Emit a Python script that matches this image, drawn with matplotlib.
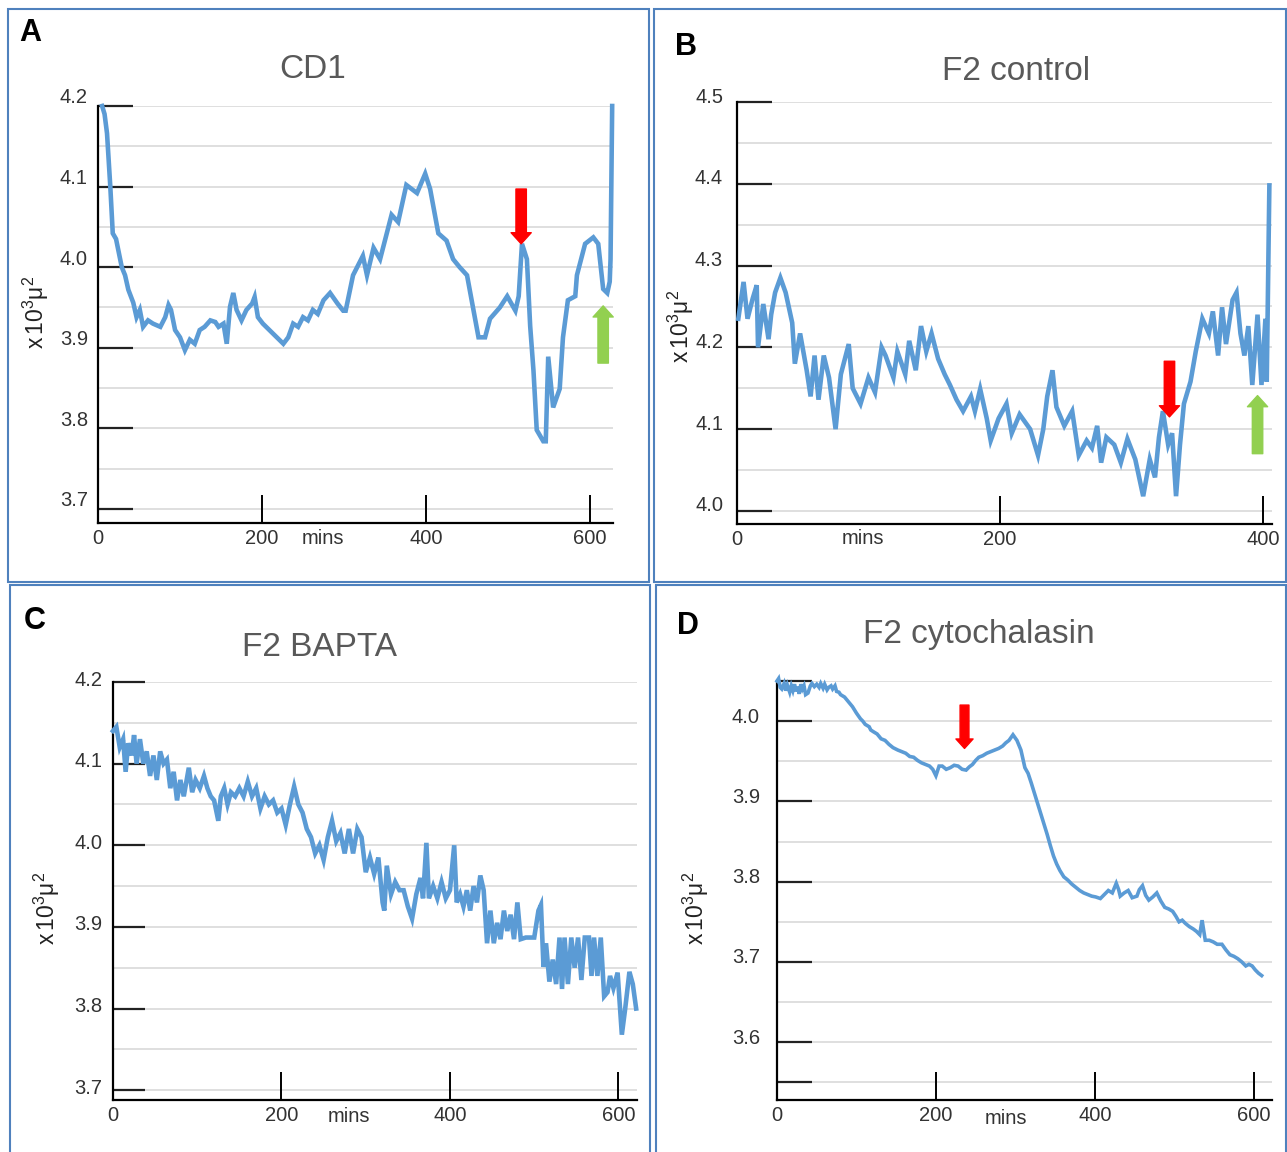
import matplotlib
matplotlib.use("Agg")
import matplotlib.pyplot as plt
from matplotlib.patches import FancyArrowPatch, Rectangle
from matplotlib.transforms import offset_copy
import numpy as np

plt.rcParams['font.family'] = ['Liberation Sans', 'DejaVu Sans']
plt.rcParams['mathtext.fontset'] = 'custom'
plt.rcParams['mathtext.rm'] = 'Liberation Sans'
plt.rcParams['mathtext.it'] = 'Liberation Sans'

# ---------------- data ----------------
titles = ["CD1", "F2 control", "F2 BAPTA", "F2 cytochalasin"]
letters = ["A", "B", "C", "D"]

a_t = [5, 8, 11, 15, 18, 22, 29, 33, 37, 43, 47, 51, 55, 61, 67, 76, 82, 86, 89, 94, 100, 106, 112, 118,
       124, 130, 137, 143, 147, 153, 157, 161, 165, 169, 175, 181, 188, 191, 195, 201, 209, 218, 226, 232,
       238, 244, 250, 256, 262, 268, 275, 283, 292, 299, 302, 311, 323, 328, 336, 344, 358, 366, 376, 389,
       399, 405, 415, 425, 433, 441, 450, 458, 464, 472, 478, 490, 499, 509, 513, 517, 523, 527, 531, 535,
       543, 546, 549, 555, 563, 567, 573, 582, 584, 594, 604, 610, 616, 621, 624, 625, 627]
a_v = [4.200, 4.190, 4.166, 4.100, 4.042, 4.035, 4.000, 3.990, 3.972, 3.956, 3.938, 3.947, 3.926, 3.934,
       3.930, 3.926, 3.938, 3.953, 3.947, 3.922, 3.913, 3.897, 3.910, 3.905, 3.922, 3.926, 3.934, 3.932,
       3.926, 3.930, 3.905, 3.951, 3.968, 3.947, 3.934, 3.947, 3.955, 3.963, 3.938, 3.930, 3.922, 3.913,
       3.905, 3.913, 3.930, 3.926, 3.938, 3.934, 3.947, 3.942, 3.959, 3.968, 3.955, 3.946, 3.946, 3.990,
       4.014, 3.990, 4.024, 4.010, 4.065, 4.056, 4.102, 4.092, 4.116, 4.097, 4.042, 4.033, 4.010, 4.000,
       3.990, 3.946, 3.913, 3.913, 3.936, 3.950, 3.964, 3.946, 3.964, 4.029, 4.010, 3.927, 3.872, 3.798,
       3.784, 3.784, 3.889, 3.826, 3.849, 3.913, 3.959, 3.964, 3.990, 4.029, 4.037, 4.029, 3.973, 3.968,
       3.982, 4.010, 4.200]

b_t = [1, 5, 8, 12, 15, 16, 20, 24, 26, 29, 33, 37, 42, 44, 48, 53, 56, 59, 62, 66, 70, 75, 79, 85, 88,
       94, 100, 105, 110, 113, 119, 122, 128, 131, 136, 140, 144, 148, 153, 158, 162, 167, 172, 178, 181,
       185, 190, 193, 199, 205, 209, 215, 223, 229, 233, 236, 240, 243, 249, 255, 260, 266, 270, 274, 277,
       281, 287, 292, 297, 303, 309, 314, 318, 321, 324, 328, 331, 334, 337, 340, 345, 349, 354, 359, 362,
       366, 369, 372, 377, 380, 383, 386, 389, 392, 396, 399, 402, 403, 405]
b_v = [4.235, 4.280, 4.235, 4.260, 4.276, 4.200, 4.253, 4.210, 4.240, 4.267, 4.285, 4.267, 4.230, 4.180,
       4.217, 4.172, 4.140, 4.190, 4.136, 4.190, 4.163, 4.100, 4.167, 4.204, 4.150, 4.131, 4.163, 4.145,
       4.200, 4.190, 4.163, 4.195, 4.167, 4.208, 4.172, 4.226, 4.195, 4.217, 4.186, 4.167, 4.154, 4.136,
       4.122, 4.140, 4.122, 4.149, 4.113, 4.086, 4.113, 4.131, 4.095, 4.118, 4.100, 4.068, 4.100, 4.140,
       4.172, 4.127, 4.104, 4.122, 4.068, 4.086, 4.077, 4.104, 4.059, 4.090, 4.081, 4.059, 4.088, 4.063,
       4.018, 4.063, 4.041, 4.090, 4.122, 4.081, 4.095, 4.018, 4.081, 4.131, 4.158, 4.195, 4.235, 4.217,
       4.244, 4.190, 4.249, 4.204, 4.258, 4.267, 4.217, 4.190, 4.226, 4.154, 4.240, 4.154, 4.235, 4.158,
       4.398]

c_t = [0, 4, 8, 12, 15, 18, 22, 25, 28, 32, 36, 40, 44, 48, 52, 56, 60, 64, 68, 72, 76, 80, 84, 90, 94,
       98, 103, 108, 112, 116, 120, 125, 128, 132, 136, 140, 145, 150, 155, 160, 165, 170, 175, 180, 185,
       190, 195, 200, 205, 210, 215, 220, 225, 230, 235, 240, 245, 250, 255, 260, 265, 270, 275, 280, 285,
       290, 295, 300, 305, 310, 315, 320, 322, 325, 330, 335, 340, 345, 350, 355, 360, 365, 368, 372, 375,
       380, 385, 390, 395, 400, 405, 408, 412, 416, 420, 424, 428, 432, 436, 440, 444, 448, 452, 456, 460,
       464, 468, 472, 476, 480, 484, 490, 500, 505, 508, 511, 514, 518, 522, 526, 530, 533, 536, 540, 544,
       548, 552, 556, 560, 565, 568, 571, 575, 579, 583, 587, 590, 594, 599, 604, 608, 613, 617, 621]
c_v = [4.140, 4.145, 4.120, 4.130, 4.090, 4.125, 4.110, 4.135, 4.100, 4.130, 4.100, 4.115, 4.085, 4.110,
       4.080, 4.115, 4.100, 4.105, 4.070, 4.090, 4.055, 4.080, 4.060, 4.095, 4.065, 4.080, 4.070, 4.085,
       4.070, 4.060, 4.055, 4.030, 4.060, 4.070, 4.050, 4.065, 4.060, 4.070, 4.060, 4.078, 4.060, 4.070,
       4.045, 4.060, 4.050, 4.055, 4.040, 4.045, 4.025, 4.050, 4.072, 4.050, 4.040, 4.020, 4.010, 3.990,
       4.000, 3.982, 4.010, 4.030, 4.005, 4.015, 3.990, 4.020, 3.990, 4.020, 4.010, 3.967, 3.985, 3.965,
       3.985, 3.930, 3.920, 3.975, 3.940, 3.955, 3.945, 3.945, 3.925, 3.910, 3.940, 3.960, 3.935, 4.003,
       3.935, 3.950, 3.935, 3.955, 3.935, 3.945, 4.000, 3.930, 3.940, 3.925, 3.945, 3.920, 3.950, 3.930,
       3.963, 3.945, 3.880, 3.920, 3.880, 3.905, 3.885, 3.920, 3.895, 3.915, 3.885, 3.930, 3.885, 3.887,
       3.887, 3.920, 3.927, 3.851, 3.880, 3.833, 3.860, 3.830, 3.887, 3.824, 3.887, 3.830, 3.887, 3.850,
       3.887, 3.835, 3.887, 3.887, 3.840, 3.887, 3.840, 3.887, 3.815, 3.820, 3.840, 3.825, 3.844, 3.768,
       3.800, 3.845, 3.830, 3.800]

d_t = [0, 2, 4, 6, 9, 11, 13, 16, 18, 20, 22, 24, 26, 28, 30, 32, 34, 36, 39, 42, 44, 47, 50, 53, 55, 58,
       60, 63, 65, 68, 70, 73, 75, 78, 80, 85, 90, 95, 100, 105, 108, 111, 116, 118, 121, 126, 131, 136,
       141, 146, 152, 157, 162, 167, 172, 177, 182, 187, 192, 196, 200, 204, 208, 213, 218, 223, 228, 233,
       238, 242, 246, 250, 254, 259, 264, 269, 274, 279, 284, 288, 292, 297, 302, 307, 312, 316, 320, 325,
       330, 335, 340, 344, 348, 352, 356, 361, 366, 371, 376, 381, 386, 391, 396, 401, 407, 412, 417, 422,
       427, 430, 432, 437, 442, 447, 453, 456, 460, 464, 468, 473, 478, 483, 488, 493, 498, 502, 506, 510,
       514, 519, 524, 528, 532, 535, 539, 544, 549, 554, 560, 565, 570, 575, 580, 585, 590, 594, 598, 602,
       606, 610]
d_v = [4.050, 4.053, 4.042, 4.040, 4.047, 4.038, 4.045, 4.036, 4.044, 4.038, 4.046, 4.037, 4.043, 4.034,
       4.046, 4.040, 4.044, 4.033, 4.035, 4.044, 4.047, 4.043, 4.046, 4.042, 4.047, 4.041, 4.046, 4.039,
       4.042, 4.044, 4.040, 4.044, 4.037, 4.036, 4.033, 4.030, 4.024, 4.018, 4.010, 4.003, 4.000, 3.996,
       3.993, 3.989, 3.987, 3.984, 3.978, 3.976, 3.971, 3.967, 3.964, 3.962, 3.960, 3.956, 3.955, 3.951,
       3.948, 3.946, 3.944, 3.940, 3.932, 3.944, 3.944, 3.940, 3.942, 3.945, 3.944, 3.940, 3.939, 3.943,
       3.946, 3.951, 3.955, 3.957, 3.960, 3.962, 3.964, 3.966, 3.969, 3.973, 3.976, 3.983, 3.976, 3.964,
       3.942, 3.935, 3.923, 3.907, 3.891, 3.875, 3.859, 3.845, 3.832, 3.822, 3.814, 3.806, 3.802, 3.797,
       3.793, 3.789, 3.786, 3.784, 3.782, 3.781, 3.779, 3.784, 3.789, 3.786, 3.798, 3.790, 3.782, 3.786,
       3.789, 3.780, 3.782, 3.790, 3.795, 3.783, 3.777, 3.781, 3.786, 3.776, 3.768, 3.766, 3.763, 3.757,
       3.750, 3.752, 3.748, 3.744, 3.741, 3.738, 3.734, 3.752, 3.727, 3.727, 3.725, 3.722, 3.722, 3.715,
       3.709, 3.707, 3.704, 3.700, 3.695, 3.697, 3.695, 3.690, 3.686, 3.683]

series_t = [a_t, b_t, c_t, d_t]
series_v = [a_v, b_v, c_v, d_v]

xlims = [(0, 628), (0, 407), (0, 622), (0, 623)]
ylims = [(3.6826, 4.2), (3.984, 4.5), (3.688, 4.2), (3.528, 4.05)]
xticks = [[0, 200, 400, 600], [0, 200, 400], [0, 200, 400, 600], [0, 200, 400, 600]]
yticks = [[3.7, 3.8, 3.9, 4.0, 4.1, 4.2], [4.0, 4.1, 4.2, 4.3, 4.4, 4.5],
          [3.7, 3.8, 3.9, 4.0, 4.1, 4.2], [3.55, 3.6, 3.7, 3.8, 3.9, 4.0, 4.05]]
yticklabels = [["3.7", "3.8", "3.9", "4.0", "4.1", "4.2"], ["4.0", "4.1", "4.2", "4.3", "4.4", "4.5"],
               ["3.7", "3.8", "3.9", "4.0", "4.1", "4.2"], ["", "3.6", "3.7", "3.8", "3.9", "4.0", ""]]

# arrows: (panel, x, y_tail, y_tip, color)
arrows = [(0, 516, 4.097, 4.029, "#ff0000"), (0, 616, 3.881, 3.952, "#92d050"),
          (1, 329, 4.183, 4.115, "#ff0000"), (1, 396, 4.070, 4.141, "#92d050"),
          (3, 236, 4.020, 3.966, "#ff0000")]

# ---------------- layout (pixels) ----------------
W, H = 1287, 1152
fig = plt.figure(figsize=(W / 100, H / 100), dpi=100)
fig.patch.set_facecolor("white")

boxes = [(98, 613, 106, 523), (737, 1272, 102, 524), (113, 637, 682, 1100), (777, 1272, 681, 1100)]
ylab_dy = [8, 5, 2, 4]
ylab_dx = [10, 14, 11, 17]
ytick_len = [25, 25, 23, 25]
title_pos = [(313, 70), (1016, 72), (320, 647), (979, 635)]
letter_pos = [(19, 33), (675, 47), (24, 621), (677, 626)]
ylabel_pos = [(36, 312), (681, 326), (47, 908), (696, 908)]
mins_pos = [(323, 539), (863, 539), (349, 1116), (1006, 1118)]
panel_rects = [(8, 9, 649, 582), (654, 9, 1286, 582), (10, 585, 650, 1170), (656, 585, 1286, 1170)]

def fx(px):
    return px / W

def fy(py):
    return 1 - py / H

line_color = "#5b9bd5"
grid_color = "#d9d9d9"
txt_color = "#333333"
tick_fs = 14.5

for i in range(4):
    l, r, t, b = boxes[i]
    ax = fig.add_axes([fx(l), fy(b), (r - l) / W, (b - t) / H])
    ax.set_xlim(*xlims[i])
    ax.set_ylim(*ylims[i])
    ax.patch.set_alpha(0)
    y0, y1 = ylims[i]
    g = np.arange(np.ceil(y0 / 0.05 - 1e-6) * 0.05, y1 + 1e-6, 0.05)
    for gy in g:
        ax.axhline(gy, color=grid_color, lw=1.2, zorder=0)
    lw = 2.6 if i == 3 else 3.3
    ax.plot(series_t[i], series_v[i], color=line_color, lw=lw, solid_joinstyle="miter",
            clip_on=False, zorder=3)
    for sp in ["top", "right"]:
        ax.spines[sp].set_visible(False)
    for sp in ["left", "bottom"]:
        ax.spines[sp].set_linewidth(1.6)
        ax.spines[sp].set_color("black")
    ax.set_xticks(xticks[i])
    ax.set_xticklabels([str(v) for v in xticks[i]], fontsize=tick_fs, color=txt_color)
    ax.tick_params(axis="x", direction="in", length=20, width=1.4, pad=4, color="black")
    ax.set_yticks(yticks[i])
    ax.set_yticklabels([])
    ax.tick_params(axis="y", direction="in", length=ytick_len[i], width=1.6, color="#222222")
    tr = offset_copy(ax.get_yaxis_transform(), fig=fig, x=-ylab_dx[i], y=ylab_dy[i], units="dots")
    for v, lab in zip(yticks[i], yticklabels[i]):
        ax.text(0, v, lab, transform=tr, ha="right", va="center", fontsize=tick_fs, color=txt_color)
    for (pi, ax_x, ya, yb, col) in arrows:
        if pi != i:
            continue
        s = 0.85 if i == 3 else 1.0
        p = FancyArrowPatch((ax_x, ya), (ax_x, yb),
                            arrowstyle=f"simple,head_length={8 * s},head_width={14.5 * s},tail_width={7.5 * s}",
                            mutation_scale=1, color=col, shrinkA=0, shrinkB=0, clip_on=False, zorder=5)
        ax.add_patch(p)

    fig.text(fx(title_pos[i][0]), fy(title_pos[i][1]), titles[i], ha="center", va="center",
             fontsize=24, color="#595959")
    fig.text(fx(letter_pos[i][0]), fy(letter_pos[i][1]), letters[i], ha="left", va="center",
             fontsize=22, fontweight="bold", color="black")
    fig.text(fx(ylabel_pos[i][0]), fy(ylabel_pos[i][1]), r"$\mathregular{x\,10^3μ^2}$",
             ha="center", va="center", rotation=90, fontsize=16.5, color="#222222")
    fig.text(fx(mins_pos[i][0]), fy(mins_pos[i][1]), "mins", ha="center", va="center",
             fontsize=tick_fs, color=txt_color)

for (x0, y0, x1, y1) in panel_rects:
    rect = Rectangle((fx(x0), fy(y1)), (x1 - x0) / W, (y1 - y0) / H, transform=fig.transFigure,
                     fill=False, edgecolor="#4f81bd", lw=1.5, clip_on=False)
    fig.patches.append(rect)

fig.savefig("out.png", dpi=100)
